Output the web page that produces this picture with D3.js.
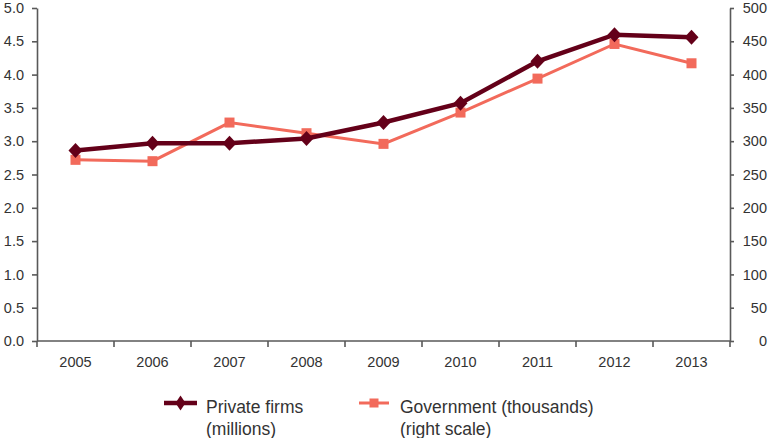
<!DOCTYPE html>
<html>
<head>
<meta charset="utf-8">
<script src="https://cdn.jsdelivr.net/npm/d3@7"></script>
<style>
  html, body { margin: 0; padding: 0; background: #fff; }
  svg { display: block; font-family: "Liberation Sans", Arial, sans-serif; }
</style>
</head>
<body>
<svg id="chart" width="768" height="438"></svg>
<script>
// Firms by year: private (millions, left axis) and government (thousands, right axis)
const years = ["2005", "2006", "2007", "2008", "2009", "2010", "2011", "2012", "2013"];
const privateFirms = [2.86, 2.97, 2.97, 3.04, 3.28, 3.57, 4.20, 4.60, 4.56];
const government = [272, 270, 328, 312, 296, 343, 394, 446, 417];
const leftTicks = [0, 0.5, 1, 1.5, 2, 2.5, 3, 3.5, 4, 4.5, 5];
const rightTicks = [0, 50, 100, 150, 200, 250, 300, 350, 400, 450, 500];
const seriesNames = [["Private firms", "(millions)"], ["Government (thousands)", "(right scale)"]];

const colPrivate = "#640019";
const colGov = "#f26a5b";
const axisCol = "#595959";
const textCol = "#333333";

const svg = d3.select("#chart");
const plotLeft = 37, plotRight = 730, plotTop = 8, plotBottom = 341;

const x = d3.scaleBand().domain(years).range([plotLeft, plotRight]);
const yL = d3.scaleLinear().domain([0, 5]).range([plotBottom, plotTop]);
const yR = d3.scaleLinear().domain([0, 500]).range([plotBottom, plotTop]);

// Left axis
const gL = svg.append("g").attr("transform", `translate(${plotLeft},0)`)
  .call(d3.axisLeft(yL).tickValues(leftTicks).tickFormat(d3.format(".1f")).tickSize(5).tickSizeOuter(0).tickPadding(8));
// Right axis
const gR = svg.append("g").attr("transform", `translate(${plotRight},0)`)
  .call(d3.axisRight(yR).tickValues(rightTicks).tickFormat(d3.format("d")).tickSize(4).tickSizeOuter(0));
gR.selectAll("text").attr("text-anchor", "end").attr("x", 37);

// Bottom axis: ticks on category boundaries, labels centred
const gB = svg.append("g").attr("transform", `translate(0,${plotBottom})`);
gB.append("line").attr("x1", plotLeft).attr("x2", plotRight).attr("y1", 0).attr("y2", 0);
const bounds = years.map(d => x(d)).concat([plotRight]);
gB.selectAll("line.tk").data(bounds).join("line").attr("class", "tk")
  .attr("x1", d => d).attr("x2", d => d).attr("y1", 0).attr("y2", 6);
gB.selectAll("text").data(years).join("text")
  .attr("x", d => x(d) + x.bandwidth() / 2).attr("y", 26)
  .attr("text-anchor", "middle").text(d => d);

[gL, gR, gB].forEach(g => {
  g.selectAll("path.domain, line").attr("stroke", axisCol).attr("stroke-width", 1.6);
  g.selectAll("text").attr("fill", textCol).style("font-size", "14.5px");
});

const cx = d => x(d) + x.bandwidth() / 2;
const diamond = (w, h) => `M0,${-h}L${w},0L0,${h}L${-w},0Z`;

// Government line (right scale)
svg.append("path").datum(government)
  .attr("fill", "none").attr("stroke", colGov).attr("stroke-width", 3)
  .attr("d", d3.line().x((d, i) => cx(years[i])).y(d => yR(d)));
svg.selectAll("rect.gov").data(government).join("rect").attr("class", "gov")
  .attr("x", (d, i) => cx(years[i]) - 5).attr("y", d => yR(d) - 5)
  .attr("width", 10).attr("height", 10).attr("fill", colGov);

// Private firms line (left scale)
svg.append("path").datum(privateFirms)
  .attr("fill", "none").attr("stroke", colPrivate).attr("stroke-width", 4.5)
  .attr("d", d3.line().x((d, i) => cx(years[i])).y(d => yL(d)));
svg.selectAll("path.pf").data(privateFirms).join("path").attr("class", "pf")
  .attr("transform", (d, i) => `translate(${cx(years[i])},${yL(d)})`)
  .attr("d", diamond(7, 7.5)).attr("fill", colPrivate);

// Legend
const lg = svg.append("g");
const legendItems = [
  { x1: 164, x2: 197, color: colPrivate, w: 4.5, tx: 206, names: seriesNames[0], mark: "diamond" },
  { x1: 359, x2: 389, color: colGov, w: 3, tx: 400, names: seriesNames[1], mark: "square" }
];
legendItems.forEach(it => {
  const ly = 403;
  lg.append("line").attr("x1", it.x1).attr("x2", it.x2).attr("y1", ly).attr("y2", ly)
    .attr("stroke", it.color).attr("stroke-width", it.w);
  const mx = (it.x1 + it.x2) / 2;
  if (it.mark === "diamond") {
    lg.append("path").attr("transform", `translate(${mx},${ly})`).attr("d", diamond(5, 7.5)).attr("fill", it.color);
  } else {
    lg.append("rect").attr("x", mx - 4.5).attr("y", ly - 4.5).attr("width", 9).attr("height", 9).attr("fill", it.color);
  }
  const t = lg.append("text").attr("fill", textCol).style("font-size", "17.5px");
  t.append("tspan").attr("x", it.tx).attr("y", 412.5).text(it.names[0]);
  t.append("tspan").attr("x", it.tx).attr("y", 434.5).text(it.names[1]);
});
</script>
</body>
</html>
